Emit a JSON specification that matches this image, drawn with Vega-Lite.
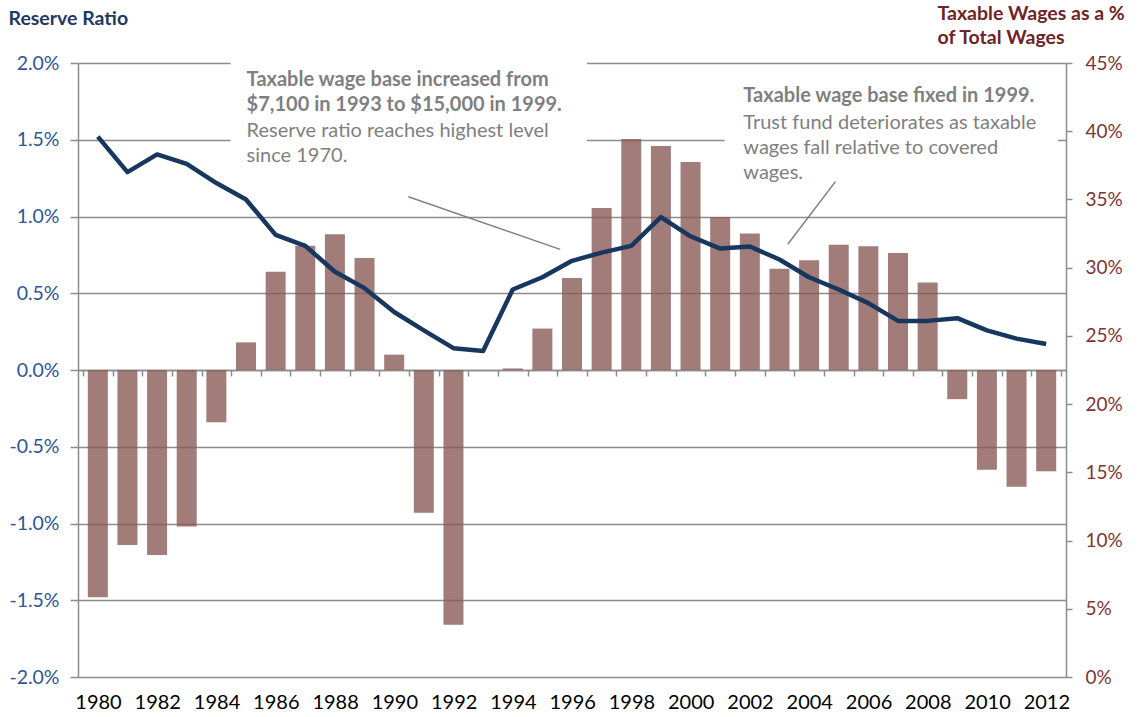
{
  "$schema": "https://vega.github.io/schema/vega-lite/v6.json",
  "width": 988,
  "height": 614,
  "autosize": {"type": "none"},
  "padding": {"left": 78, "top": 63, "right": 72, "bottom": 40},
  "background": "white",
  "config": {"view": {"stroke": null}, "font": "Lato", "axis": {"titleFontSize": 19.5, "titleFont": "Lato", "labelFont": "Lato"}},
  "datasets": {
    "main": [
      {"year": 1980, "rr": -1.48, "tw": 39.6},
      {"year": 1981, "rr": -1.14, "tw": 37.0},
      {"year": 1982, "rr": -1.205, "tw": 38.3},
      {"year": 1983, "rr": -1.02, "tw": 37.6},
      {"year": 1984, "rr": -0.34, "tw": 36.2},
      {"year": 1985, "rr": 0.18, "tw": 35.0},
      {"year": 1986, "rr": 0.64, "tw": 32.4},
      {"year": 1987, "rr": 0.81, "tw": 31.6},
      {"year": 1988, "rr": 0.885, "tw": 29.7},
      {"year": 1989, "rr": 0.73, "tw": 28.5},
      {"year": 1990, "rr": 0.10, "tw": 26.75},
      {"year": 1991, "rr": -0.93, "tw": 25.4},
      {"year": 1992, "rr": -1.66, "tw": 24.1},
      {"year": 1993, "rr": 0.0, "tw": 23.9},
      {"year": 1994, "rr": 0.01, "tw": 28.4},
      {"year": 1995, "rr": 0.27, "tw": 29.3},
      {"year": 1996, "rr": 0.60, "tw": 30.5},
      {"year": 1997, "rr": 1.055, "tw": 31.1},
      {"year": 1998, "rr": 1.505, "tw": 31.6},
      {"year": 1999, "rr": 1.46, "tw": 33.7},
      {"year": 2000, "rr": 1.355, "tw": 32.3},
      {"year": 2001, "rr": 0.997, "tw": 31.4},
      {"year": 2002, "rr": 0.89, "tw": 31.55},
      {"year": 2003, "rr": 0.66, "tw": 30.6},
      {"year": 2004, "rr": 0.715, "tw": 29.3},
      {"year": 2005, "rr": 0.816, "tw": 28.4},
      {"year": 2006, "rr": 0.806, "tw": 27.4},
      {"year": 2007, "rr": 0.762, "tw": 26.1},
      {"year": 2008, "rr": 0.57, "tw": 26.1},
      {"year": 2009, "rr": -0.19, "tw": 26.3},
      {"year": 2010, "rr": -0.65, "tw": 25.4},
      {"year": 2011, "rr": -0.76, "tw": 24.8},
      {"year": 2012, "rr": -0.66, "tw": 24.4}
    ],
    "boxes": [
      {"x1": 1984.48, "x2": 1996.5, "y1": 1.2, "y2": 2.03},
      {"x1": 2001.15, "x2": 2012.4, "y1": 1.1, "y2": 1.9}
    ],
    "notes": [
      {"x": 1985.02, "y": 1.89, "t": "Taxable wage base increased from", "role": "headline"},
      {"x": 1985.02, "y": 1.727, "t": "$7,100 in 1993 to $15,000 in 1999.", "role": "headline"},
      {"x": 1985.02, "y": 1.557, "t": "Reserve ratio reaches highest level", "role": "detail"},
      {"x": 1985.02, "y": 1.394, "t": "since 1970.", "role": "detail"},
      {"x": 2001.78, "y": 1.782, "t": "Taxable wage base fixed in 1999.", "role": "headline"},
      {"x": 2001.78, "y": 1.608, "t": "Trust fund deteriorates as taxable", "role": "detail"},
      {"x": 2001.78, "y": 1.445, "t": "wages fall relative to covered", "role": "detail"},
      {"x": 2001.78, "y": 1.282, "t": "wages.", "role": "detail"}
    ],
    "leaders": [
      {"x1": 1990.48, "y1": 1.129, "x2": 1995.6, "y2": 0.786},
      {"x1": 2004.89, "y1": 1.227, "x2": 2003.28, "y2": 0.819}
    ]
  },
  "layer": [
    {
      "data": {"name": "boxes"},
      "mark": {"type": "rect", "fill": "white", "strokeWidth": 0},
      "encoding": {
        "x": {"field": "x1", "type": "quantitative", "scale": {"domain": [1979.5, 2012.5], "nice": false, "zero": false}, "axis": null},
        "x2": {"field": "x2"},
        "y": {"field": "y1", "type": "quantitative", "scale": {"domain": [-2, 2], "nice": false}, "axis": null},
        "y2": {"field": "y2"}
      }
    },
    {
      "data": {"name": "main"},
      "mark": {"type": "bar", "size": 20, "color": "#8B5B58", "opacity": 0.8},
      "encoding": {
        "x": {
          "field": "year", "type": "quantitative",
          "scale": {"domain": [1979.5, 2012.5], "nice": false, "zero": false},
          "axis": {
            "values": [1979.5, 1980.5, 1981.5, 1982.5, 1983.5, 1984.5, 1985.5, 1986.5, 1987.5, 1988.5, 1989.5, 1990.5, 1991.5, 1992.5, 1993.5, 1994.5, 1995.5, 1996.5, 1997.5, 1998.5, 1999.5, 2000.5, 2001.5, 2002.5, 2003.5, 2004.5, 2005.5, 2006.5, 2007.5, 2008.5, 2009.5, 2010.5, 2011.5, 2012.5],
            "labelExpr": "(datum.value + 0.5) % 2 == 0 ? '' + (datum.value + 0.5) : ''",
            "offset": -307,
            "grid": false,
            "title": null,
            "tickSize": 6,
            "tickWidth": 1.5,
            "tickColor": "#8c8c8c",
            "domainColor": "#8c8c8c",
            "domainWidth": 1.5,
            "labelOffset": 15,
            "labelPadding": 326,
            "labelBaseline": "middle",
            "labelFontSize": 20,
            "labelColor": "#000000",
            "labelOverlap": false,
            "labelFlush": false,
            "labelBound": false
          }
        },
        "y": {
          "field": "rr", "type": "quantitative",
          "scale": {"domain": [-2, 2], "nice": false},
          "axis": {
            "values": [-2, -1.5, -1, -0.5, 0, 0.5, 1, 1.5, 2],
            "labelExpr": "(datum.value < 0 ? '-' : '') + format(abs(datum.value), '.1f') + '%'",
            "grid": true,
            "gridColor": "#8c8c8c",
            "gridWidth": 1.5,
            "domainColor": "#8c8c8c",
            "domainWidth": 1.5,
            "tickColor": "#8c8c8c",
            "tickWidth": 1.5,
            "tickSize": 8,
            "labelColor": "#2F5597",
            "labelFontSize": 19.5,
            "labelPadding": 11,
            "title": "Reserve Ratio",
            "titleAngle": 0,
            "titleAlign": "left",
            "titleBaseline": "middle",
            "titleX": -70,
            "titleY": -45,
            "titleFontSize": 19.5,
            "titleFontWeight": "bold",
            "titleColor": "#1F3864"
          }
        }
      }
    },
    {
      "data": {"name": "leaders"},
      "mark": {"type": "rule", "color": "#7F7F7F", "strokeWidth": 1.5},
      "encoding": {
        "x": {"field": "x1", "type": "quantitative", "scale": {"domain": [1979.5, 2012.5], "nice": false, "zero": false}, "axis": null},
        "x2": {"field": "x2"},
        "y": {"field": "y1", "type": "quantitative", "scale": {"domain": [-2, 2], "nice": false}, "axis": null},
        "y2": {"field": "y2"}
      }
    },
    {
      "data": {"name": "notes"},
      "transform": [{"filter": "datum.role == 'headline'"}],
      "mark": {"type": "text", "align": "left", "baseline": "middle", "fontSize": 20, "fontWeight": "bold", "color": "#7F7F7F"},
      "encoding": {
        "x": {"field": "x", "type": "quantitative", "scale": {"domain": [1979.5, 2012.5], "nice": false, "zero": false}, "axis": null},
        "y": {"field": "y", "type": "quantitative", "scale": {"domain": [-2, 2], "nice": false}, "axis": null},
        "text": {"field": "t"}
      }
    },
    {
      "data": {"name": "notes"},
      "transform": [{"filter": "datum.role == 'detail'"}],
      "mark": {"type": "text", "align": "left", "baseline": "middle", "fontSize": 20, "color": "#7F7F7F"},
      "encoding": {
        "x": {"field": "x", "type": "quantitative", "scale": {"domain": [1979.5, 2012.5], "nice": false, "zero": false}, "axis": null},
        "y": {"field": "y", "type": "quantitative", "scale": {"domain": [-2, 2], "nice": false}, "axis": null},
        "text": {"field": "t"}
      }
    },
    {
      "data": {"name": "main"},
      "mark": {"type": "line", "color": "#17375E", "strokeWidth": 4.5, "strokeJoin": "round"},
      "encoding": {
        "x": {"field": "year", "type": "quantitative", "scale": {"domain": [1979.5, 2012.5], "nice": false, "zero": false}, "axis": null},
        "y": {
          "field": "tw", "type": "quantitative",
          "scale": {"domain": [0, 45], "nice": false},
          "axis": {
            "orient": "right",
            "values": [0, 5, 10, 15, 20, 25, 30, 35, 40, 45],
            "labelExpr": "datum.value + '%'",
            "grid": false,
            "domainColor": "#8c8c8c",
            "domainWidth": 1.5,
            "tickColor": "#8c8c8c",
            "tickWidth": 1.5,
            "tickSize": 6,
            "labelColor": "#7B3535",
            "labelFontSize": 19,
            "labelPadding": 13,
            "title": ["Taxable Wages as a %", "of Total Wages"],
            "titleAngle": 0,
            "titleAlign": "left",
            "titleBaseline": "middle",
            "titleX": -129,
            "titleY": -49.5,
            "titleLineHeight": 24,
            "titleFontSize": 19.5,
            "titleFontWeight": "bold",
            "titleColor": "#6E2426"
          }
        }
      }
    }
  ],
  "resolve": {"scale": {"y": "independent"}, "axis": {"x": "independent", "y": "independent"}}
}
